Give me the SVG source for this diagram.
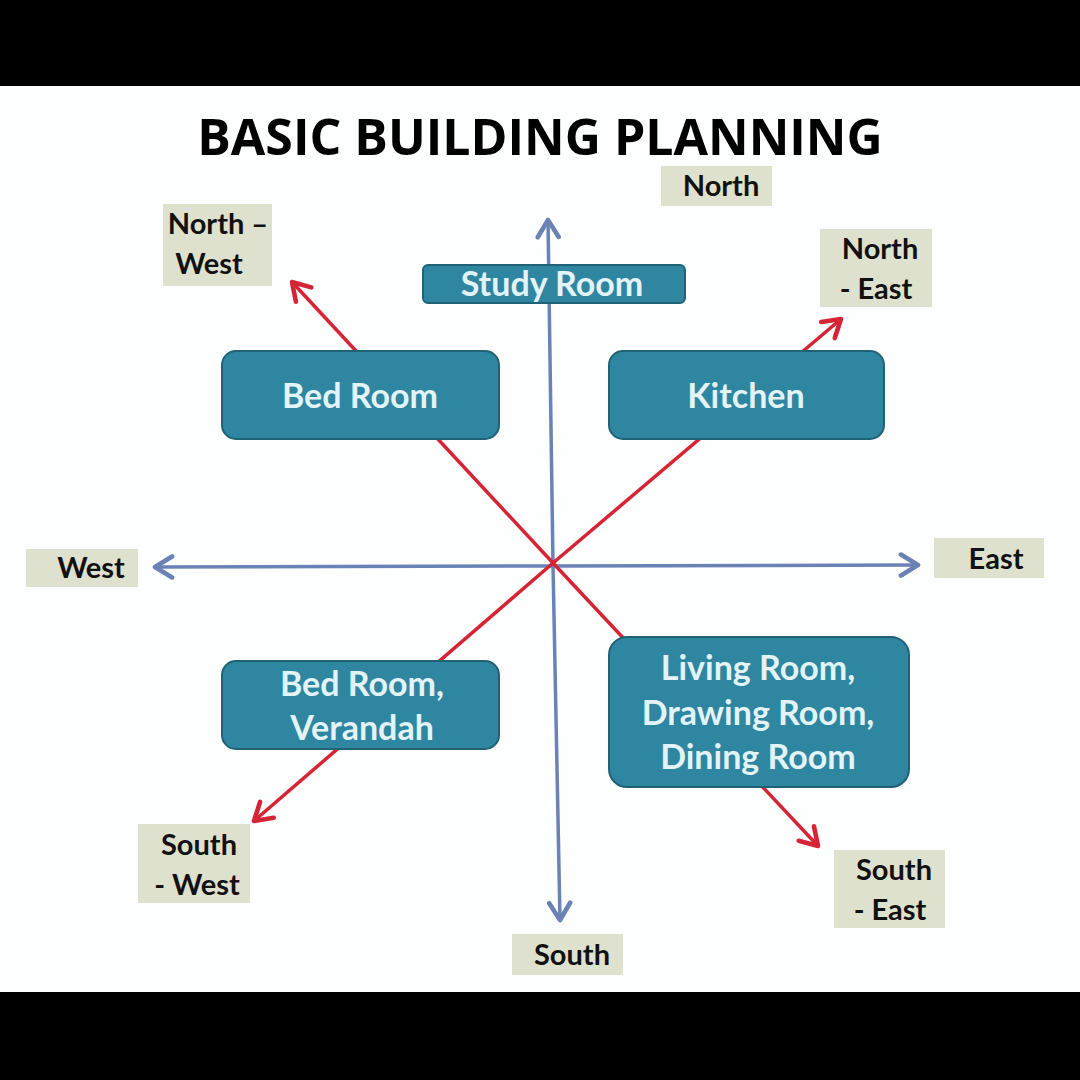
<svg xmlns="http://www.w3.org/2000/svg" width="1080" height="1080" viewBox="0 0 1080 1080">
<defs>
<style>
.room rect{fill:#2f86a0;stroke:#1f6275;stroke-width:2}
.room text{font-family:Lato,"Open Sans",sans-serif;font-weight:700;font-size:34px;fill:#e2f4f8;text-anchor:middle}
.dir rect{fill:#dfe1cf}
.dir text{font-family:Lato,"Open Sans",sans-serif;font-weight:700;font-size:29px;fill:#111;text-anchor:middle}
.axis{stroke:#6a82b6;stroke-width:3.5;fill:none}
.diag{stroke:#d42436;stroke-width:3.5;fill:none}
</style>
<marker id="ab" viewBox="0 0 20 20" refX="17" refY="10" markerWidth="7.5" markerHeight="7.5" markerUnits="strokeWidth" orient="auto"><path d="M4,2 L17,10 L4,18" fill="none" stroke="#6a82b6" stroke-width="3.5" stroke-linecap="round" stroke-linejoin="round"/></marker>
<marker id="ar" viewBox="0 0 20 20" refX="17" refY="10" markerWidth="7.5" markerHeight="7.5" markerUnits="strokeWidth" orient="auto"><path d="M4,2 L17,10 L4,18" fill="none" stroke="#d42436" stroke-width="3.5" stroke-linecap="round" stroke-linejoin="round"/></marker>
</defs>
<rect width="1080" height="1080" fill="#fdfefe"/>
<rect x="0" y="0" width="1080" height="86" fill="#000"/>
<rect x="0" y="992" width="1080" height="88" fill="#000"/>
<text x="540" y="155" font-family="'Open Sans',sans-serif" font-weight="700" font-size="50" text-anchor="middle" fill="#000">BASIC BUILDING PLANNING</text>

<g id="connectors">
<line class="axis" x1="553" y1="565" x2="548" y2="220" marker-end="url(#ab)"/>
<line class="axis" x1="553" y1="565" x2="560" y2="920" marker-end="url(#ab)"/>
<line class="axis" x1="553" y1="566" x2="155" y2="567" marker-end="url(#ab)"/>
<line class="axis" x1="553" y1="566" x2="918" y2="565" marker-end="url(#ab)"/>
<line class="diag" x1="553" y1="563" x2="292" y2="282" marker-end="url(#ar)"/>
<line class="diag" x1="553" y1="563" x2="841" y2="319" marker-end="url(#ar)"/>
<line class="diag" x1="553" y1="563" x2="254" y2="821" marker-end="url(#ar)"/>
<line class="diag" x1="553" y1="563" x2="818" y2="846" marker-end="url(#ar)"/>
</g>

<g id="study-room" class="room"><rect x="423" y="265" width="262" height="38" rx="5"/><text x="552" y="296">Study Room</text></g>
<g id="bed-room" class="room"><rect x="222" y="351" width="277" height="88" rx="14"/><text x="360" y="408">Bed Room</text></g>
<g id="kitchen" class="room"><rect x="609" y="351" width="275" height="88" rx="14"/><text x="746" y="408">Kitchen</text></g>
<g id="bed-room-verandah" class="room"><rect x="222" y="661" width="277" height="88" rx="14"/><text x="362" y="696">Bed Room,</text><text x="362" y="740">Verandah</text></g>
<g id="living-room" class="room"><rect x="609" y="637" width="300" height="150" rx="18"/><text x="758" y="680">Living Room,</text><text x="758" y="725">Drawing Room,</text><text x="758" y="769">Dining Room</text></g>

<g id="north" class="dir"><rect x="661" y="166" width="111" height="40"/><text x="721" y="196">North</text></g>
<g id="north-west" class="dir"><rect x="163" y="204" width="109" height="82"/><text x="218" y="234">North –</text><text x="209" y="274">West</text></g>
<g id="north-east" class="dir"><rect x="820" y="229" width="112" height="78"/><text x="880" y="259">North</text><text x="876" y="299">- East</text></g>
<g id="west" class="dir"><rect x="26" y="549" width="112" height="38"/><text x="91" y="578">West</text></g>
<g id="east" class="dir"><rect x="934" y="538" width="110" height="40"/><text x="996" y="569">East</text></g>
<g id="south-west" class="dir"><rect x="138" y="824" width="112" height="79"/><text x="199" y="855">South</text><text x="197" y="895">- West</text></g>
<g id="south-east" class="dir"><rect x="834" y="850" width="111" height="78"/><text x="894" y="880">South</text><text x="890" y="920">- East</text></g>
<g id="south" class="dir"><rect x="512" y="934" width="111" height="41"/><text x="572" y="965">South</text></g>
</svg>
